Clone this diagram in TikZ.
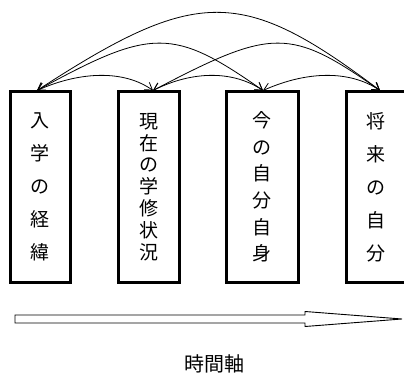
\documentclass[tikz,border=0pt]{standalone}
\usepackage{fontspec}
\newfontfamily\cjk{Noto Sans CJK JP}
\usetikzlibrary{arrows.meta,calc}
\tikzset{
  box/.style={draw, line width=3pt, minimum height=190pt, inner sep=0pt, align=center,
    font=\cjk\fontsize{19}{33}\selectfont},
  link/.style={line width=0.8pt, {Straight Barb[length=7pt,width=9pt]}-{Straight Barb[length=7pt,width=9pt]}},
  timearrow/.style={draw, line width=0.9pt, fill=white, line join=miter}
}
\begin{document}
\begin{tikzpicture}[x=1pt,y=-1pt]
\useasboundingbox (0,0) rectangle (404,374);
\node[box, minimum width=60pt] (b1) at (40,187) {入\\学\\の\\経\\緯};
\node[box, minimum width=61pt, font=\cjk\fontsize{19}{21.8}\selectfont] (b2) at (148.5,187) {現\\在\\の\\学\\修\\状\\況};
\node[box, minimum width=72pt, font=\cjk\fontsize{19}{26.6}\selectfont] (b3) at (262,187) {今\\の\\自\\分\\自\\身};
\node[box, minimum width=60pt] (b4) at (376,187) {将\\来\\の\\自\\分};
\coordinate (t1) at ($(b1.north)+(-3,0)$);
\coordinate (t2) at ($(b2.north)+(4.5,0)$);
\coordinate (t3) at ($(b3.north)+(1,0)$);
\coordinate (t4) at ($(b4.north)+(4,0)$);
\draw[link] (t1) .. controls +(45,-20) and +(-28,-20) .. (t2);
\draw[link] (t2) .. controls +(40,-20) and +(-30,-20) .. (t3);
\draw[link] (t3) .. controls +(45,-20) and +(-30,-20) .. (t4);
\draw[link] (t1) .. controls +(115,-63) and +(-90,-63) .. (t3);
\draw[link] (t2) .. controls +(120,-63) and +(-90,-63) .. (t4);
\draw[link] (t1) .. controls +(160,-104) and +(-138,-104) .. (t4);
\draw[timearrow] (15,315) -- (305,315) -- (305,311.5) -- (402,319) -- (305,326.5) -- (305,323) -- (15,323) -- cycle;
\node[font=\cjk\fontsize{20}{24}\selectfont, inner sep=0pt] (axis) at (214,364) {時間軸};
\end{tikzpicture}
\end{document}
